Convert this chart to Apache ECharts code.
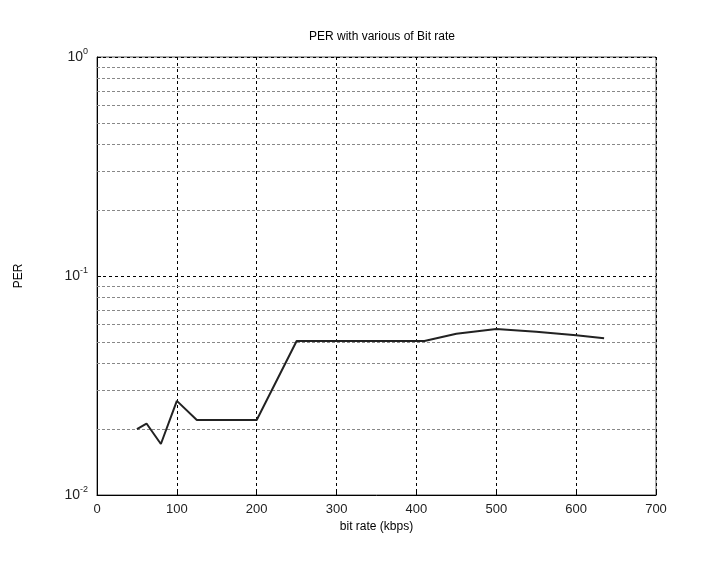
<!DOCTYPE html>
<html>
<head>
<meta charset="utf-8">
<script src="https://cdn.jsdelivr.net/npm/echarts@6/dist/echarts.min.js"></script>
<style>
  html, body { margin: 0; padding: 0; background: #fff; }
  #main { width: 702px; height: 569px; }
</style>
</head>
<body>
<div id="main"></div>
<script>
  // bit rate (kbps) and PER
  const bitRate = [50, 62, 80, 100, 125, 200, 250, 410, 450, 500, 550, 600, 635];
  const per = [0.0200, 0.0212, 0.0171, 0.0269, 0.0220, 0.0220, 0.0505, 0.0505, 0.0545, 0.0573, 0.0556, 0.0536, 0.0520];

  // x ticks and minor log grid (2..9 x 10^n)
  const xTicks = [0, 100, 200, 300, 400, 500, 600, 700];
  const minorGrid = [0.02, 0.03, 0.04, 0.05, 0.06, 0.07, 0.08, 0.09,
                     0.2, 0.3, 0.4, 0.5, 0.6, 0.7, 0.8, 0.9];

  const chart = echarts.init(document.getElementById("main"));
  const font = "Liberation Sans, Arial, sans-serif";

  const option = {
    backgroundColor: "#fff",
    animation: false,
    title: {
      text: "PER with various of Bit rate",
      left: 377,
      top: 26,
      textAlign: "center",
      textStyle: { fontFamily: font, fontSize: 12, fontWeight: "normal", color: "#000" }
    },
    grid: {
      left: 97, right: 46, top: 57, bottom: 74,
      show: true, borderColor: "#555", borderWidth: 1, backgroundColor: "#fff"
    },
    xAxis: {
      type: "value",
      min: xTicks[0],
      max: xTicks[xTicks.length - 1],
      interval: 100,
      name: "bit rate (kbps)",
      nameLocation: "middle",
      nameGap: 26,
      nameTextStyle: { fontFamily: font, fontSize: 12, color: "#000" },
      axisLine: { lineStyle: { color: "#000" } },
      axisTick: { inside: true, length: 4, lineStyle: { color: "#000" } },
      axisLabel: { fontFamily: font, fontSize: 13, color: "#222", margin: 8 },
      splitLine: { show: true, lineStyle: { color: "#000", type: [3, 3], width: 1 } }
    },
    yAxis: {
      type: "log",
      logBase: 10,
      min: 0.01,
      max: 1,
      name: "PER",
      nameLocation: "middle",
      nameGap: 72,
      nameTextStyle: { fontFamily: font, fontSize: 12, color: "#000" },
      axisLine: { lineStyle: { color: "#000" } },
      axisTick: { inside: true, length: 4, lineStyle: { color: "#000" } },
      axisLabel: {
        fontFamily: font, fontSize: 14, color: "#222", margin: 9,
        formatter: function (v) {
          return "10{s|" + Math.round(Math.log10(v)) + "}";
        },
        rich: { s: { fontFamily: font, fontSize: 9, color: "#222", padding: [0, 0, 11, 0] } }
      },
      splitLine: { show: true, lineStyle: { color: "#000", type: [3, 3], width: 1 } }
    },
    series: [{
      type: "line",
      data: bitRate.map((x, i) => [x, per[i]]),
      symbol: "none",
      lineStyle: { color: "#222", width: 2 },
      markLine: {
        silent: true,
        symbol: "none",
        label: { show: false },
        lineStyle: { color: "#888", type: [3, 2], width: 1 },
        data: minorGrid.map(v => ({ yAxis: v }))
      },
      z: 5
    }]
  };

  chart.setOption(option);
</script>
</body>
</html>
